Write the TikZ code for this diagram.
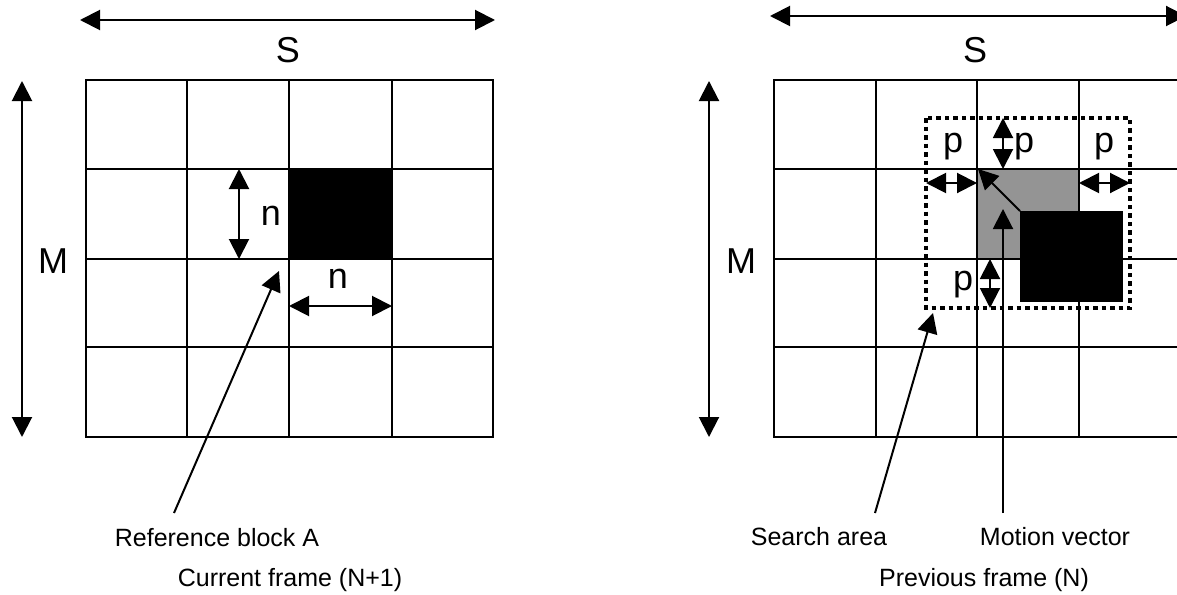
\documentclass[tikz,border=0pt]{standalone}
\usepackage{fontspec}
\setmainfont{Liberation Sans}
\usetikzlibrary{arrows.meta}
\definecolor{midgray}{RGB}{148,148,148}

\begin{document}
\begin{tikzpicture}[x=1pt,y=-1pt,
  tip/.tip={Triangle[length=20pt,width=20pt]},
  gridline/.style={line width=2pt},
  dim/.style={line width=2pt,tip-tip},
  ptr/.style={line width=2pt,-tip},
  big/.style={font=\fontsize{36}{40}\selectfont,inner sep=0pt,anchor=base},
  small/.style={font=\fontsize{25}{28}\selectfont,inner sep=0pt,anchor=base},
  block/.style={fill=black,inner sep=0pt,minimum width=103pt,minimum height=91pt},
  search/.style={line width=4.5pt,dash pattern=on 4.5pt off 4pt}
]
\useasboundingbox (0,0) rectangle (1177,594);

% ---------------- current frame (N+1) ----------------
\foreach \x in {187,289,392} \draw[gridline] (\x,80) -- (\x,437);
\foreach \y in {169,259,347} \draw[gridline] (86,\y) -- (493,\y);
\draw[gridline] (86,80) rectangle (493,437);
\node[block] (blockA) at (340.5,214) {};

\coordinate (sL1) at (80,20);   \coordinate (sL2) at (495,20);
\coordinate (mL1) at (22,81);   \coordinate (mL2) at (22,437);
\coordinate (nv1) at (239,169); \coordinate (nv2) at (239,259);
\coordinate (nh1) at (289,306); \coordinate (nh2) at (392,306);
\coordinate (refTail) at (174,513); \coordinate (refTip) at (279,271);

\draw[dim] (sL1) -- (sL2);
\draw[dim] (mL1) -- (mL2);
\draw[dim] (nv1) -- (nv2);
\draw[dim] (nh1) -- (nh2);
\draw[ptr] (refTail) -- (refTip);

\node[big] (S1) at (288,63) {S};
\node[big] (M1) at (53,273) {M};
\node[big] (n1) at (271,225) {n};
\node[big] (n2) at (338,288) {n};
\node[small] (refA) at (217,546) {Reference block A};
\node[small] (cur) at (290,586) {Current frame (N+1)};

% ---------------- previous frame (N) ----------------
\fill[midgray] (977,169) rectangle (1079,259);
\foreach \x in {876,977,1079} \draw[gridline] (\x,80) -- (\x,437);
\foreach \y in {169,259,347} \draw[gridline] (774,\y) -- (1181,\y);
\draw[gridline] (774,80) rectangle (1181,437);
\node[block] (blockB) at (1071.5,256.5) {};
\draw[search] (926,118) rectangle (1130,308);

\coordinate (sR1) at (770,16);   \coordinate (sR2) at (1186,16);
\coordinate (mR1) at (709,81);   \coordinate (mR2) at (709,437);
\coordinate (pl1) at (926,183);  \coordinate (pl2) at (977,183);
\coordinate (pr1) at (1079,183); \coordinate (pr2) at (1130,183);
\coordinate (pt1) at (1003,118); \coordinate (pt2) at (1003,169);
\coordinate (pb1) at (990,259);  \coordinate (pb2) at (990,308);
\coordinate (mvFrom) at (1020,211); \coordinate (mvTo) at (978,169);
\coordinate (srchTail) at (875,513); \coordinate (srchTip) at (933,313);
\coordinate (mvTail) at (1003,513);  \coordinate (mvTip) at (1003,209);

\draw[dim] (sR1) -- (sR2);
\draw[dim] (mR1) -- (mR2);
\draw[dim] (pl1) -- (pl2);
\draw[dim] (pr1) -- (pr2);
\draw[dim] (pt1) -- (pt2);
\draw[dim] (pb1) -- (pb2);
\draw[ptr] (mvFrom) -- (mvTo);
\draw[ptr] (srchTail) -- (srchTip);
\draw[ptr] (mvTail) -- (mvTip);

\node[big] (S2) at (975,63) {S};
\node[big] (M2) at (741,273) {M};
\node[big] (pL) at (953,152) {p};
\node[big] (pT) at (1024,152) {p};
\node[big] (pR) at (1104,152) {p};
\node[big] (pB) at (963,290) {p};
\node[small] (srch) at (819,545) {Search area};
\node[small] (mv) at (1055,545) {Motion vector};
\node[small] (prev) at (984,586) {Previous frame (N)};
\end{tikzpicture}
\end{document}
